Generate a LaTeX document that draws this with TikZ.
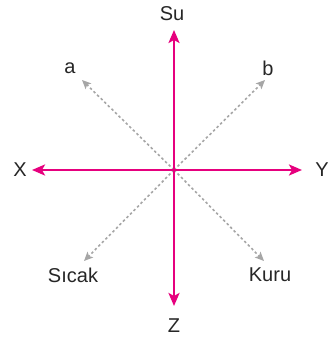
\documentclass[tikz,border=0pt]{standalone}
\usepackage{fontspec}
\setmainfont{Liberation Sans}
\usepackage{tikz}
\usetikzlibrary{arrows.meta}
\definecolor{eksen}{HTML}{E6007E}
\definecolor{gri}{HTML}{A6A6A6}

\begin{document}
\begin{tikzpicture}[
    x=1pt, y=1pt,
    every node/.style={font=\fontsize{20}{22}\selectfont, text=black!85, inner sep=0pt},
    ana/.style={draw=eksen, line width=2.4pt, -{Stealth[length=13pt, width=11pt, inset=3pt]}},
    yan/.style={draw=gri, line width=1.6pt, dash pattern=on 2.5pt off 2.5pt, -{Stealth[length=9pt, width=8pt, inset=2pt]}},
]
\useasboundingbox (0,0) rectangle (331,342);

% Merkez ve uç noktalar
\coordinate (O) at (174,172);
\coordinate (ust) at (174,312);
\coordinate (alt) at (174,36);
\coordinate (sol) at (32,172);
\coordinate (sag) at (302,172);
\coordinate (ua) at (82,262);
\coordinate (ub) at (265,262);
\coordinate (us) at (84,81);
\coordinate (uk) at (264,81);

% Etiketler
\node (su) at (172,328) {Su};
\node (z) at (174,16) {Z};
\node (x) at (20,172) {X};
\node (y) at (322,172) {Y};
\node (a) at (70,274) {a};
\node (b) at (268,274) {b};
\node (sicak) at (73,67) {Sıcak};
\node (kuru) at (270,67) {Kuru};

% Kesikli oklar
\draw[yan] (O) -- (ua);
\draw[yan] (O) -- (ub);
\draw[yan] (O) -- (us);
\draw[yan] (O) -- (uk);

% Ana eksenler
\draw[ana] (O) -- (ust);
\draw[ana] (O) -- (alt);
\draw[ana] (O) -- (sol);
\draw[ana] (O) -- (sag);

\end{tikzpicture}
\end{document}
